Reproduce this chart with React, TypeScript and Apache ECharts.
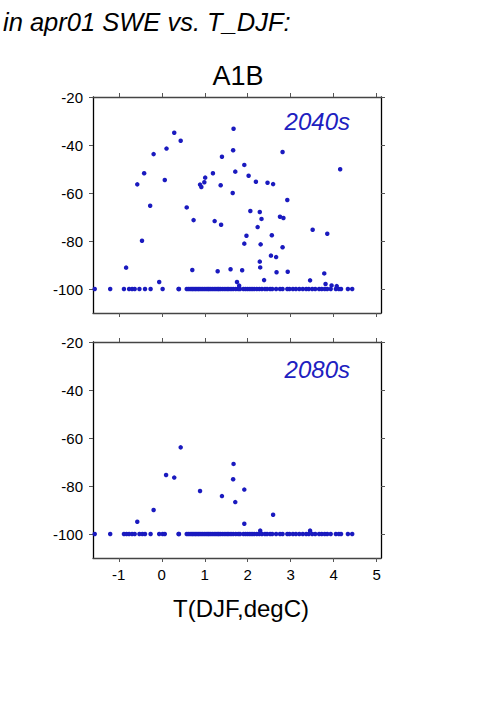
import React, { useEffect, useRef } from "react";
import * as echarts from "echarts";

const xTicks = [-1, 0, 1, 2, 3, 4, 5];
const yTicks = [-100, -80, -60, -40, -20];

// 2040s, points above the -100 floor: [T_DJF, change]
const pts2040: number[][] = [
  [0.29, -34.9], [0.44, -38.2], [1.67, -33.2], [-0.19, -43.8], [0.11, -41.5], [1.66, -42.2],
  [1.40, -44.9], [-0.41, -51.8], [0.07, -54.6], [-0.57, -56.4], [1.71, -51.1], [1.19, -51.8],
  [1.01, -53.6], [0.99, -55.5], [0.89, -56.5], [0.92, -57.5], [1.37, -56.8], [1.65, -60.0],
  [-0.27, -65.3], [0.58, -66.0], [2.81, -42.9], [1.92, -48.3], [2.02, -52.8], [2.19, -55.3],
  [2.46, -55.7], [2.59, -56.3], [4.15, -50.1], [2.92, -62.9], [0.74, -71.3], [1.23, -71.7],
  [1.38, -73.2], [-0.46, -79.9], [-0.83, -91.1], [0.71, -92.1], [1.30, -92.6], [1.60, -91.8],
  [-0.06, -97.1], [1.75, -97.1], [2.06, -67.5], [2.28, -67.9], [2.32, -70.8], [2.75, -69.9],
  [2.83, -70.4], [2.23, -74.2], [3.51, -75.3], [3.85, -77.0], [1.97, -77.8], [2.56, -77.6],
  [1.92, -81.1], [2.30, -81.4], [2.81, -82.6], [2.54, -86.1], [2.66, -86.7], [2.28, -88.6],
  [2.29, -91.0], [1.87, -92.2], [2.67, -93.0], [2.93, -92.8], [3.78, -93.5], [2.38, -96.3],
  [3.45, -96.4], [3.81, -97.9], [3.95, -98.5], [4.07, -98.8], [1.80, -98.6]
];
// 2040s, T_DJF of the points at -100
const floor2040 = [
  -1.56, -1.20, -0.88, -0.76, -0.69, -0.63, -0.52, -0.39, -0.26, 0.02, 0.39, 0.40,
  0.58, 0.62, 0.66, 0.70, 0.73, 0.77, 0.80, 0.84, 0.87, 0.91, 0.95, 0.99, 1.03, 1.07,
  1.10, 1.14, 1.18, 1.22, 1.26, 1.30, 1.33, 1.37, 1.42, 1.47, 1.52, 1.56, 1.61, 1.66,
  1.72, 1.78, 1.82, 1.90, 1.95, 2.00, 2.05, 2.10, 2.15, 2.21, 2.27, 2.33, 2.40, 2.45,
  2.52, 2.57, 2.66, 2.75, 2.81, 2.92, 2.97, 3.05, 3.12, 3.20, 3.28, 3.36, 3.42, 3.50,
  3.57, 3.66, 3.72, 3.79, 3.85, 3.93, 4.05, 4.12, 4.17, 4.33, 4.43
];

// 2080s, points above the -100 floor
const pts2080: number[][] = [
  [0.44, -63.9], [0.10, -75.4], [0.29, -76.5], [1.67, -70.8], [1.66, -77.2], [0.89, -82.1],
  [1.40, -84.2], [1.71, -86.7], [-0.19, -90.0], [-0.57, -94.9], [1.92, -81.5], [2.59, -92.0],
  [1.92, -95.7], [2.29, -98.6], [3.45, -98.6]
];
const floor2080 = [
  -1.56, -1.20, -0.88, -0.82, -0.76, -0.69, -0.63, -0.52, -0.45, -0.39, -0.26, -0.06,
  0.02, 0.07, 0.39, 0.40,
  0.58, 0.62, 0.66, 0.70, 0.73, 0.77, 0.80, 0.84, 0.87, 0.91, 0.95, 0.99, 1.03, 1.07,
  1.10, 1.14, 1.18, 1.22, 1.26, 1.30, 1.33, 1.37, 1.42, 1.47, 1.52, 1.56, 1.61, 1.66,
  1.72, 1.78, 1.82, 1.90, 1.95, 2.00, 2.05, 2.10, 2.15, 2.21, 2.27, 2.33, 2.40, 2.45,
  2.52, 2.57, 2.66, 2.75, 2.81, 2.92, 2.97, 3.05, 3.12, 3.20, 3.28, 3.36, 3.42, 3.50,
  3.57, 3.66, 3.72, 3.79, 3.85, 3.93, 4.05, 4.12, 4.17, 4.33, 4.43
];
const FLOOR = -100;

const FONT = "Liberation Sans";
const DOT = "#1a1abf";
const LBL = "#2020c0";

export default function App() {
  const ref = useRef<HTMLDivElement>(null);
  useEffect(() => {
    if (!ref.current) return;
    const chart = echarts.init(ref.current, null, { renderer: "svg" });
    const vLine = { show: true, onZero: false, lineStyle: { color: "#000", width: 1.3 } };
    const hLine = { show: true, onZero: false, lineStyle: { color: "#444", width: 1.3 } };
    const tick = (vals: number[]) => ({ show: true, length: 4, lineStyle: { color: "#555", width: 1 }, customValues: vals });
    const lab = (vals: number[], show: boolean, margin: number) => ({
      show, customValues: vals, color: "#000", fontFamily: FONT, fontSize: 15, margin,
    });
    const xAxes: any[] = [];
    const yAxes: any[] = [];
    [0, 1].forEach((g) => {
      xAxes.push({ type: "value", gridIndex: g, position: "bottom", min: -1.6, max: 5.1,
        axisLine: hLine, axisTick: tick(xTicks), axisLabel: lab(xTicks, g === 1, 9), splitLine: { show: false } });
      xAxes.push({ type: "value", gridIndex: g, position: "top", min: -1.6, max: 5.1,
        axisLine: hLine, axisTick: tick(xTicks), axisLabel: lab(xTicks, false, 9), splitLine: { show: false } });
      yAxes.push({ type: "value", gridIndex: g, position: "left", min: -110, max: -20,
        axisLine: vLine, axisTick: tick(yTicks), axisLabel: lab(yTicks, true, 10), splitLine: { show: false } });
      yAxes.push({ type: "value", gridIndex: g, position: "right", min: -110, max: -20,
        axisLine: vLine, axisTick: tick(yTicks), axisLabel: lab(yTicks, false, 10), splitLine: { show: false } });
    });
    const sym = { symbol: "circle", symbolSize: 4.5, itemStyle: { color: DOT, opacity: 1 } };
    chart.setOption({
      animation: false,
      backgroundColor: "#fff",
      grid: [
        { left: 93, top: 97, width: 288, height: 216 },
        { left: 93, top: 342, width: 288, height: 216 },
      ],
      xAxis: xAxes,
      yAxis: yAxes,
      title: [
        { text: "in apr01 SWE vs. T_DJF:", left: -2, top: 4,
          textStyle: { fontFamily: FONT, fontStyle: "italic", fontWeight: "normal", fontSize: 25.5, color: "#000" } },
        { text: "A1B", left: 233, textAlign: "center", top: 57,
          textStyle: { fontFamily: FONT, fontWeight: "normal", fontSize: 27, color: "#000" } },
        { text: "2040s", left: 345, textAlign: "right", top: 104,
          textStyle: { fontFamily: FONT, fontStyle: "italic", fontWeight: "normal", fontSize: 24, color: LBL } },
        { text: "2080s", left: 345, textAlign: "right", top: 352,
          textStyle: { fontFamily: FONT, fontStyle: "italic", fontWeight: "normal", fontSize: 24, color: LBL } },
        { text: "T(DJF,degC)", left: 236, textAlign: "center", top: 591,
          textStyle: { fontFamily: FONT, fontWeight: "normal", fontSize: 24, color: "#000" } },
      ],
      series: [
        { type: "scatter", xAxisIndex: 0, yAxisIndex: 0, data: floor2040.map((x) => [x, FLOOR]), ...sym },
        { type: "scatter", xAxisIndex: 0, yAxisIndex: 0, data: pts2040, ...sym },
        { type: "scatter", xAxisIndex: 2, yAxisIndex: 2, data: floor2080.map((x) => [x, FLOOR]), ...sym },
        { type: "scatter", xAxisIndex: 2, yAxisIndex: 2, data: pts2080, ...sym },
      ],
    });
    return () => chart.dispose();
  }, []);
  return <div ref={ref} style={{ position: "fixed", left: 0, top: 0, width: 501, height: 709 }} />;
}
